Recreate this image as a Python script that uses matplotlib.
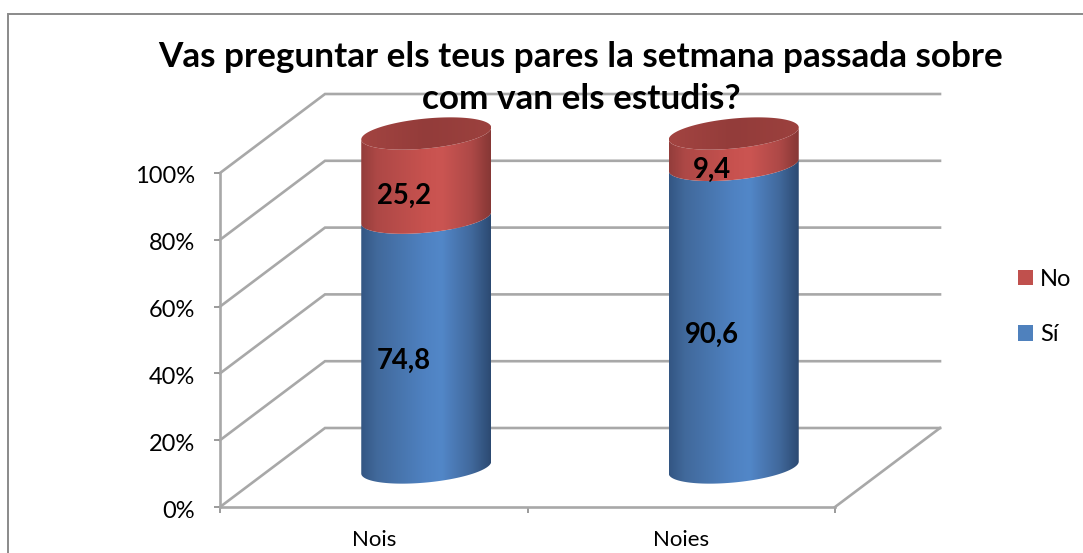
import numpy as np
import matplotlib
matplotlib.use("Agg")
import matplotlib.pyplot as plt
from matplotlib.colors import LinearSegmentedColormap
from matplotlib.patches import Patch, Polygon, Rectangle
from matplotlib.transforms import ScaledTranslation

categories = ["Nois", "Noies"]
si_values = [74.8, 90.6]
no_values = [25.2, 9.4]
si_labels = ["74,8", "90,6"]
no_labels = ["25,2", "9,4"]
percent_ticks = [0, 20, 40, 60, 80, 100]
percent_labels = ["0%", "20%", "40%", "60%", "80%", "100%"]
title = "Vas preguntar els teus pares la setmana passada sobre\ncom van els estudis?"

W, H = 1083, 553
plt.rcParams["font.family"] = ["Lato", "DejaVu Sans"]
fig = plt.figure(figsize=(W / 100, H / 100), dpi=100, facecolor="white")
L, R, T, B = 220, 835, 173, 507
ax = fig.add_axes([L / W, 1 - B / H, (R - L) / W, (B - T) / H])
ax.set_facecolor("none")
ax.set_xlim(0, 2)
ax.set_ylim(0, 100)
px = 2 / (R - L)
py = 100 / (B - T)
GRID = "#A8A8A8"
depth_x, depth_y = 105 * px, 79 * py

for v in percent_ticks:
    ax.plot([0, depth_x, 2 + depth_x], [v, v + depth_y, v + depth_y], color=GRID, lw=1.9,
            clip_on=False, zorder=1, solid_joinstyle="miter")
ax.plot([2, 2 + depth_x], [0, depth_y], color=GRID, lw=1.9, clip_on=False, zorder=1)

for s in ("top", "right"):
    ax.spines[s].set_visible(False)
for s in ("left", "bottom"):
    ax.spines[s].set_color(GRID)
    ax.spines[s].set_linewidth(1.9)
ax.set_yticks(percent_ticks, percent_labels)
ax.tick_params(axis="y", length=4, width=1.2, color="#8A8A8A", labelsize=17, pad=14, labelcolor="black")
nudge = ScaledTranslation(0, -2 / 100, fig.dpi_scale_trans)
for lab in ax.get_yticklabels():
    lab.set_verticalalignment("center_baseline")
    lab.set_transform(lab.get_transform() + nudge)
ax.set_xticks([0, 1, 2], ["", "", ""])
ax.set_xticks([0.5, 1.5], categories, minor=True)
ax.tick_params(axis="x", which="major", length=4, width=1.2, color="#8A8A8A")
ax.tick_params(axis="x", which="minor", length=0, labelsize=16, pad=16.5, labelcolor="black")

blue_map = LinearSegmentedColormap.from_list("b", [(0, "#335683"), (0.12, "#41699B"), (0.5, "#4F82C2"),
                                                   (0.62, "#5287C8"), (0.85, "#41699C"), (1, "#2C4A72")])
red_map = LinearSegmentedColormap.from_list("r", [(0, "#933D3B"), (0.12, "#AD4846"), (0.5, "#C8524F"),
                                                  (0.62, "#CB5552"), (0.85, "#AE4947"), (1, "#863735")])
top_map = LinearSegmentedColormap.from_list("t", [(0, "#A34441"), (0.5, "#933C3A"), (1, "#9C413E")])

half_w = 65 * px
semi_b = 15 * py
shear = 6 * py
t_low = np.linspace(np.pi, 2 * np.pi, 80)
t_all = np.linspace(0, 2 * np.pi, 160)


def arc(cx, cy, t):
    return np.column_stack([cx + half_w * np.cos(t), cy + shear * np.cos(t) + semi_b * np.sin(t)])


def shade(path_xy, cmap, cx, y0, y1, z):
    poly = Polygon(path_xy, closed=True, facecolor="none", edgecolor="none", transform=ax.transData)
    ax.add_patch(poly)
    poly.set_clip_on(False)
    im = ax.imshow(np.linspace(0, 1, 256)[None, :], cmap=cmap, aspect="auto", interpolation="bilinear",
                   extent=[cx - half_w, cx + half_w, y0, y1], zorder=z)
    im.set_clip_box(fig.bbox)
    im.set_clip_path(poly)


centers = [0.5, 1.5]
for i, c in enumerate(centers):
    cx = c + depth_x / 2
    base = depth_y / 2
    s_top = base + si_values[i]
    n_top = s_top + no_values[i]
    blue = np.vstack([arc(cx, base, t_low), arc(cx, s_top, t_low[::-1])])
    shade(blue, blue_map, cx, base - 8, s_top + 8, 3)
    red = np.vstack([arc(cx, s_top, t_low), arc(cx, n_top, t_low[::-1])])
    shade(red, red_map, cx, s_top - 8, n_top + 8, 4)
    shade(arc(cx, n_top, t_all), top_map, cx, n_top - 8, n_top + 8, 5)
    lx = cx - 22 * px
    ax.text(lx, base + si_values[i] / 2 - 18.5 * py, si_labels[i], ha="center", va="center", fontsize=19.8,
            fontweight="bold", color="black", zorder=8, clip_on=False)
    ax.text(lx, s_top + no_values[i] / 2 - 20.5 * py, no_labels[i], ha="center", va="center", fontsize=19.8,
            fontweight="bold", color="black", zorder=8, clip_on=False)

ax.set_xlim(0, 2)
ax.set_ylim(0, 100)

fig.text(581 / W, 1 - 78 / H, title, ha="center", va="center", fontsize=25.3, fontweight="bold",
         color="black", linespacing=1.38, zorder=10)

handles = [Patch(facecolor="#C0504D"), Patch(facecolor="#4F81BD")]
fig.legend(handles, ["No", "Sí"], loc="center left", bbox_to_anchor=(1018 / W, 1 - 307 / H), frameon=False,
           fontsize=17, handlelength=0.63, handleheight=0.63, handletextpad=0.3, labelspacing=1.45,
           borderpad=0, borderaxespad=0, labelcolor="black")

fig.add_artist(Rectangle((7.5 / W, -0.05), 1.1, 1 - 14 / H + 0.05, transform=fig.transFigure,
                         facecolor="none", edgecolor="#8A8A8A", lw=1.4))

fig.savefig("out.png", dpi=100, facecolor="white")
